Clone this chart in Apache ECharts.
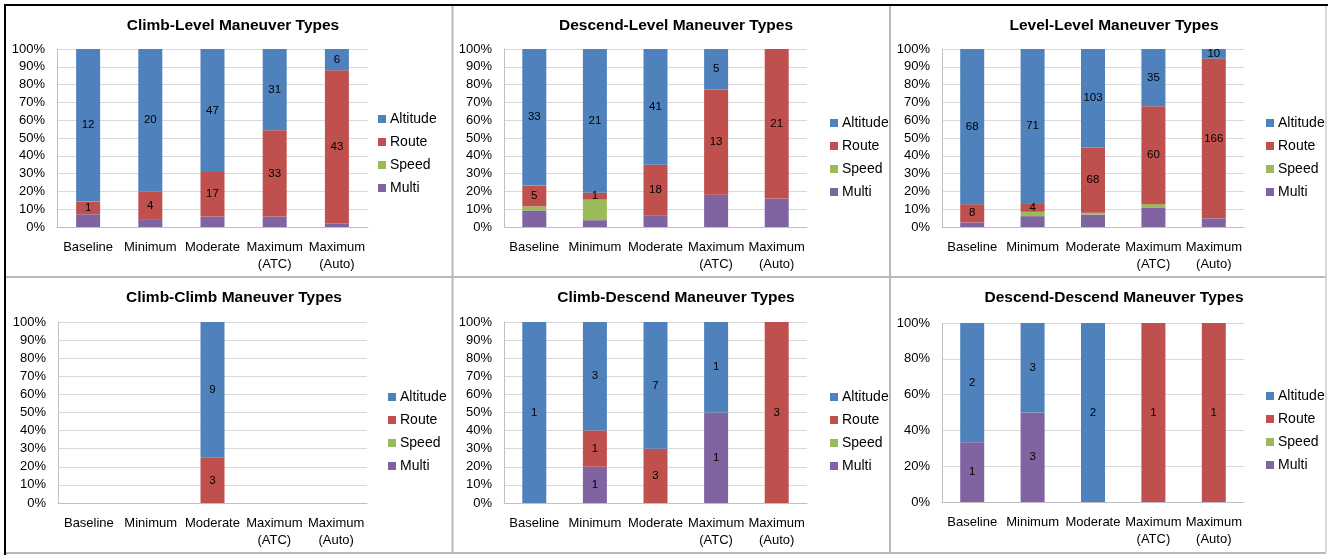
<!DOCTYPE html>
<html>
<head>
<meta charset="utf-8">
<script src="https://cdn.jsdelivr.net/npm/echarts@6/dist/echarts.min.js"></script>
<style>
html,body{margin:0;padding:0;background:#fff;}
#c{width:1328px;height:555px;}
</style>
</head>
<body>
<div id="c"></div>
<script>
const categories = ['Baseline', 'Minimum', 'Moderate', 'Maximum\n(ATC)', 'Maximum\n(Auto)'];
const seriesNames = ['Altitude', 'Route', 'Speed', 'Multi'];
const yTicks10 = [0, 10, 20, 30, 40, 50, 60, 70, 80, 90, 100];
const yTicks20 = [0, 20, 40, 60, 80, 100];

const titles = ['Climb-Level Maneuver Types', 'Descend-Level Maneuver Types', 'Level-Level Maneuver Types',
  'Climb-Climb Maneuver Types', 'Climb-Descend Maneuver Types', 'Descend-Descend Maneuver Types'];

// counts per category: Baseline, Minimum, Moderate, Maximum (ATC), Maximum (Auto)
const climbLevelAltitude = [12, 20, 47, 31, 6];
const climbLevelRoute    = [1, 4, 17, 33, 43];
const climbLevelSpeed    = [0, 0, 0, 0, 0];
const climbLevelMulti    = [1, 1, 4, 4, 1];

const descendLevelAltitude = [33, 21, 41, 5, 0];
const descendLevelRoute    = [5, 1, 18, 13, 21];
const descendLevelSpeed    = [1, 3, 0, 0, 0];
const descendLevelMulti    = [4, 1, 4, 4, 4];

const levelLevelAltitude = [68, 71, 103, 35, 10];
const levelLevelRoute    = [8, 4, 68, 60, 166];
const levelLevelSpeed    = [0, 2, 2, 2, 0];
const levelLevelMulti    = [2, 5, 13, 12, 9];

const climbClimbAltitude = [0, 0, 9, 0, 0];
const climbClimbRoute    = [0, 0, 3, 0, 0];
const climbClimbSpeed    = [0, 0, 0, 0, 0];
const climbClimbMulti    = [0, 0, 0, 0, 0];

const climbDescendAltitude = [1, 3, 7, 1, 0];
const climbDescendRoute    = [0, 1, 3, 0, 3];
const climbDescendSpeed    = [0, 0, 0, 0, 0];
const climbDescendMulti    = [0, 1, 0, 1, 0];

const descendDescendAltitude = [2, 3, 2, 0, 0];
const descendDescendRoute    = [0, 0, 0, 1, 1];
const descendDescendSpeed    = [0, 0, 0, 0, 0];
const descendDescendMulti    = [1, 3, 0, 0, 0];

const panelData = [
  [climbLevelAltitude, climbLevelRoute, climbLevelSpeed, climbLevelMulti],
  [descendLevelAltitude, descendLevelRoute, descendLevelSpeed, descendLevelMulti],
  [levelLevelAltitude, levelLevelRoute, levelLevelSpeed, levelLevelMulti],
  [climbClimbAltitude, climbClimbRoute, climbClimbSpeed, climbClimbMulti],
  [climbDescendAltitude, climbDescendRoute, climbDescendSpeed, climbDescendMulti],
  [descendDescendAltitude, descendDescendRoute, descendDescendSpeed, descendDescendMulti]
];
const panelTicks = [yTicks10, yTicks10, yTicks10, yTicks10, yTicks10, yTicks20];
// which series show count labels, per panel (Altitude, Route, Speed, Multi)
const labelShown = [
  [true, true, false, false], [true, true, false, false], [true, true, false, false],
  [true, true, false, true], [true, true, false, true], [true, true, false, true]
];

// layout (not data)
const layout = [
  {grid: [57, 49, 311, 178], title: [228, 13], legend: [373, 107]},
  {grid: [504, 49, 303, 178], title: [671, 13], legend: [825, 111]},
  {grid: [942, 49, 302, 178], title: [1109, 13], legend: [1261, 111]},
  {grid: [58, 322, 309, 181], title: [229, 285], legend: [383, 385]},
  {grid: [504, 322, 303, 181], title: [671, 285], legend: [825, 385]},
  {grid: [942, 323, 302, 179], title: [1109, 285], legend: [1261, 384]}
];
const colors = {Altitude: '#4F81BD', Route: '#C0504D', Speed: '#9BBB59', Multi: '#8064A2'};
const FONT = '"Liberation Sans", Arial, sans-serif';
// stacking order bottom to top
const stackOrder = [3, 2, 1, 0];

const option = {
  animation: false,
  backgroundColor: '#fff',
  title: [], grid: [], xAxis: [], yAxis: [], legend: [], series: [],
  graphic: []
};

panelData.forEach((arrs, p) => {
  const L = layout[p];
  const ticks = panelTicks[p];
  const totals = categories.map((c, i) => arrs.reduce((s, a) => s + a[i], 0));
  option.title.push({
    text: titles[p], left: L.title[0], top: L.title[1], textAlign: 'center',
    textStyle: {fontFamily: FONT, fontSize: 15.5, fontWeight: 'bold', color: '#000'}
  });
  option.grid.push({left: L.grid[0], top: L.grid[1], width: L.grid[2], height: L.grid[3]});
  option.xAxis.push({
    type: 'category', gridIndex: p, data: categories,
    axisLine: {lineStyle: {color: '#bfbfbf', width: 1}},
    axisTick: {show: false},
    axisLabel: {interval: 0, hideOverlap: false, margin: 12, color: '#000', fontFamily: FONT, fontSize: 13, lineHeight: 17}
  });
  option.yAxis.push({
    type: 'value', gridIndex: p, min: ticks[0], max: ticks[ticks.length - 1],
    interval: ticks[1] - ticks[0],
    axisLine: {show: true, lineStyle: {color: '#bfbfbf', width: 1}},
    axisTick: {show: false},
    splitLine: {lineStyle: {color: '#d9d9d9', width: 1}},
    axisLabel: {formatter: '{value}%', margin: 12, color: '#000', fontFamily: FONT, fontSize: 13}
  });
  option.legend.push({
    orient: 'vertical', left: L.legend[0], top: L.legend[1],
    data: seriesNames.map(n => ({name: n, icon: 'rect'})),
    itemWidth: 8, itemHeight: 8, itemGap: 9, selectedMode: false,
    textStyle: {fontFamily: FONT, fontSize: 14, color: '#000', padding: [0, 0, 0, -1]}
  });
  stackOrder.forEach(si => {
    const name = seriesNames[si];
    const arr = arrs[si];
    option.series.push({
      type: 'bar', name: name, xAxisIndex: p, yAxisIndex: p, stack: 'p' + p,
      barWidth: 24,
      itemStyle: {color: colors[name]},
      data: arr.map((v, i) => (v > 0 && totals[i] > 0) ? {value: v / totals[i] * 100, count: v} : {value: '-', count: 0}),
      label: {
        show: labelShown[p][si], position: 'inside', color: '#000',
        fontFamily: FONT, fontSize: 11.5,
        formatter: (prm) => prm.data && prm.data.count ? String(prm.data.count) : ''
      }
    });
  });
});

// panel frame lines
const grey = '#b8b8b8';
option.graphic = [
  {type: 'line', shape: {x1: 4, y1: 5, x2: 1328, y2: 5}, style: {stroke: '#000', lineWidth: 2}},
  {type: 'line', shape: {x1: 5, y1: 4, x2: 5, y2: 555}, style: {stroke: '#000', lineWidth: 2}},
  {type: 'line', shape: {x1: 452.5, y1: 6, x2: 452.5, y2: 553}, style: {stroke: grey, lineWidth: 2}},
  {type: 'line', shape: {x1: 890, y1: 6, x2: 890, y2: 553}, style: {stroke: grey, lineWidth: 2}},
  {type: 'line', shape: {x1: 6, y1: 277, x2: 1326, y2: 277}, style: {stroke: grey, lineWidth: 2}},
  {type: 'line', shape: {x1: 6, y1: 553, x2: 1326, y2: 553}, style: {stroke: grey, lineWidth: 2}},
  {type: 'line', shape: {x1: 1326, y1: 6, x2: 1326, y2: 553}, style: {stroke: '#d8d8d8', lineWidth: 2}}
];

const chart = echarts.init(document.getElementById('c'), null, {renderer: 'canvas'});
chart.setOption(option);
</script>
</body>
</html>
